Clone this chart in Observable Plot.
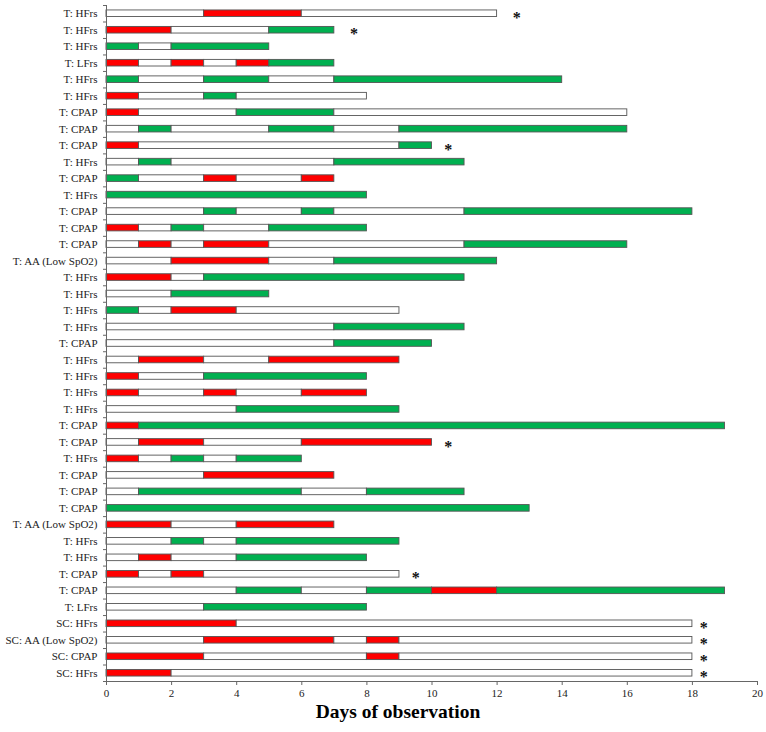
<!DOCTYPE html>
<html><head><meta charset="utf-8">
<script src="https://cdn.jsdelivr.net/npm/d3@7"></script>
<script src="https://cdn.jsdelivr.net/npm/@observablehq/plot@0.6"></script>
<style>
body{margin:0;background:#fff;}
#chart svg, #chart svg text{font-family:"Liberation Serif","Times New Roman",serif !important;}
</style></head><body><div id="chart"></div>
<script>
const rowLabels = [
 "T: HFrs","T: HFrs","T: HFrs","T: LFrs","T: HFrs","T: HFrs","T: CPAP","T: CPAP","T: CPAP","T: HFrs",
 "T: CPAP","T: HFrs","T: CPAP","T: CPAP","T: CPAP","T: AA (Low SpO2)","T: HFrs","T: HFrs","T: HFrs","T: HFrs",
 "T: CPAP","T: HFrs","T: HFrs","T: HFrs","T: HFrs","T: CPAP","T: CPAP","T: HFrs","T: CPAP","T: CPAP",
 "T: CPAP","T: AA (Low SpO2)","T: HFrs","T: HFrs","T: CPAP","T: CPAP","T: LFrs","SC: HFrs","SC: AA (Low SpO2)","SC: CPAP",
 "SC: HFrs"
];
// day boundaries of the consecutive segments of each row
const rowBounds = [
 [0,3,6,12],[0,2,5,7],[0,1,2,5],[0,1,2,3,4,5,7],[0,1,3,5,7,14],
 [0,1,3,4,8],[0,1,4,7,16],[0,1,2,5,7,9,16],[0,1,9,10],[0,1,2,7,11],
 [0,1,3,4,6,7],[0,8],[0,3,4,6,7,11,18],[0,1,2,3,5,8],[0,1,2,3,5,11,16],
 [0,2,5,7,12],[0,2,3,11],[0,2,5],[0,1,2,4,9],[0,7,11],
 [0,7,10],[0,1,3,5,9],[0,1,3,8],[0,1,3,4,6,8],[0,4,9],
 [0,1,19],[0,1,3,6,10],[0,1,2,3,4,6],[0,3,7],[0,1,6,8,11],
 [0,13],[0,2,4,7],[0,2,3,4,9],[0,1,2,4,8],[0,1,2,3,9],
 [0,4,6,8,10,12,19],[0,3,8],[0,4,18],[0,3,7,8,9,18],[0,3,8,9,18],
 [0,2,18]
];
// segment status: w = white, r = red, g = green
const rowColors = [
 "wrw","rwg","gwg","rwrwrg","gwgwg",
 "rwgw","rwgw","wgwgwg","rwg","wgwg",
 "gwrwr","g","wgwgwg","rwgwg","wrwrwg",
 "wrwg","rwg","wg","gwrw","wg",
 "wg","wrwr","rwg","rwrwr","wg",
 "rg","wrwr","rwgwg","wr","wgwg",
 "g","rwr","wgwg","wrwg","rwrw",
 "wgwgrg","wg","rw","wrwrw","rwrw",
 "rw"
];
// x position of the asterisk in each row (null = none)
const starX = [
 12.6,7.6,null,null,null,null,null,null,10.5,null,
 null,null,null,null,null,null,null,null,null,null,
 null,null,null,null,null,null,10.5,null,null,null,
 null,null,null,null,9.5,null,null,18.35,18.35,18.35,
 18.35
];
const xTicks = [0,2,4,6,8,10,12,14,16,18,20];
const xTitle = "Days of observation";
const statusCodes = ["w","r","g"];
const statusColors = ["#ffffff","#ff0000","#00b050"];

const segs = [];
rowBounds.forEach((b,i)=>{
  for (let k=0;k<b.length-1;k++) segs.push({row:i,x1:b[k],x2:b[k+1],c:rowColors[i][k]});
});
const stars = starX.map((x,i)=>({row:i,x})).filter(d=>d.x!=null);
const n = rowLabels.length;
const half = 0.2;

const chart = Plot.plot({
  width:766, height:732,
  marginLeft:106, marginRight:9, marginTop:5, marginBottom:51,
  style:{fontFamily:"'Liberation Serif', 'Times New Roman', serif", fontSize:"11px", background:"#fff", color:"#222"},
  x:{domain:[0,20]},
  y:{domain:[-0.5,n-0.5], reverse:true},
  color:{domain:statusCodes, range:statusColors},
  marks:[
    Plot.rect(segs,{x1:"x1",x2:"x2",y1:d=>d.row-half,y2:d=>d.row+half,fill:"c",stroke:"#555",strokeWidth:0.9}),
    Plot.text(stars,{x:"x",y:"row",text:()=>"*",fontSize:16,fontWeight:"bold",dy:4,fill:"#111"}),
    Plot.ruleX([0],{stroke:"#666"}),
    Plot.ruleY([n-0.5],{stroke:"#666"}),
    Plot.axisY(d3.range(n),{tickSize:0,tickPadding:9,tickFormat:i=>rowLabels[i],fontSize:11,label:null}),
    Plot.axisY(d3.range(n+1).map(i=>i-0.5),{tickSize:3,tickFormat:()=>"",label:null,stroke:"#666"}),
    Plot.axisX(xTicks,{tickSize:4,tickPadding:4,fontSize:11,stroke:"#666",label:null}),
    Plot.text([xTitle],{frameAnchor:"bottom",dx:-34,dy:36,fontSize:19.5,fontWeight:"bold",fill:"#000"})
  ]
});
document.getElementById("chart").append(chart);
</script></body></html>
